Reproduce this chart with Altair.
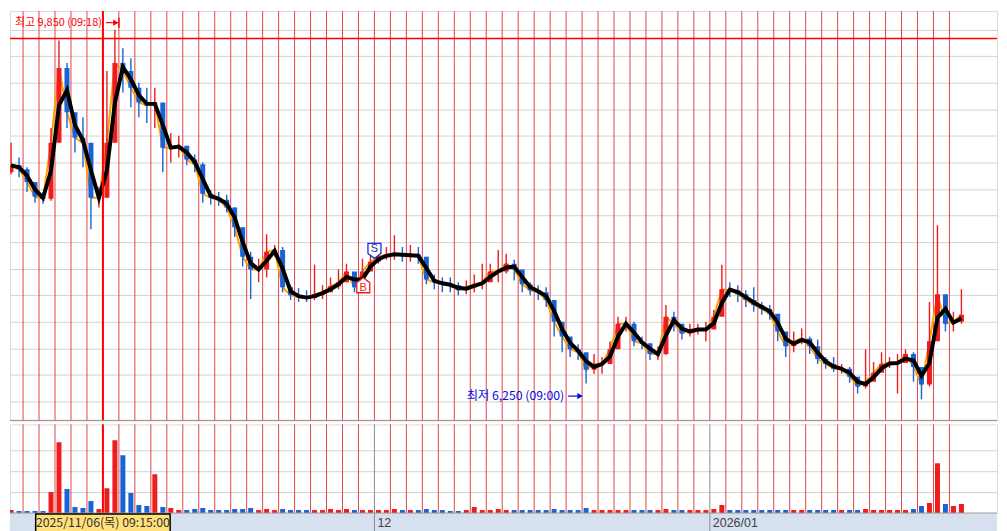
import altair as alt
import pandas as pd

# ---------------- data ----------------
# half-day slots, price in KRW
close = [
    8470, 8430, 8300, 8150, 8130, 8700, 9460, 9010, 8750, 8700,
    8140, 8140, 8700, 9510, 9430, 9260, 9110, 9080, 9110, 8650,
    8650, 8670, 8530, 8480, 8180, 8140, 8120, 8040, 7840, 7540,
    7410, 7410, 7590, 7610, 7230, 7150, 7130, 7120, 7160, 7180,
    7240, 7280, 7390, 7230, 7390, 7490, 7540, 7560, 7570, 7550,
    7560, 7540, 7310, 7280, 7260, 7250, 7200, 7230, 7260, 7280,
    7390, 7390, 7470, 7410, 7260, 7200, 7180, 7100, 6880, 6730,
    6600, 6570, 6390, 6450, 6450, 6600, 6860, 6860, 6680, 6660,
    6550, 6550, 6930, 6860, 6760, 6800, 6800, 6800, 6930, 7210,
    7200, 7160, 7100, 7050, 7010, 6960, 6780, 6630, 6680, 6710,
    6630, 6500, 6450, 6400, 6400, 6320, 6220, 6270, 6360, 6450,
    6460, 6460, 6550, 6420, 6240, 6680, 7160, 6860, 6880, 6950,
]
high = [
    8700, 8550, 8450, 8250, 8200, 8850, 9740, 9510, 8960, 8960,
    8600, 8250, 9430, 9850, 9660, 9560, 9310, 9260, 9260, 9060,
    8800, 8770, 8600, 8580, 8500, 8220, 8200, 8170, 8040, 7840,
    7590, 7520, 7770, 7660, 7640, 7250, 7220, 7200, 7460, 7250,
    7330, 7410, 7470, 7370, 7520, 7590, 7640, 7640, 7760, 7640,
    7660, 7640, 7540, 7360, 7330, 7330, 7280, 7300, 7360, 7470,
    7470, 7610, 7570, 7510, 7390, 7280, 7250, 7230, 7080, 6830,
    6700, 6650, 6520, 6550, 6520, 6680, 6930, 6930, 6880, 6730,
    6650, 6630, 7050, 6980, 6860, 6860, 6860, 6880, 7000, 7460,
    7280, 7250, 7200, 7230, 7080, 7050, 6930, 6730, 6780, 6810,
    6730, 6700, 6520, 6520, 6450, 6420, 6320, 6600, 6470, 6570,
    6520, 6550, 6600, 6570, 6320, 7080, 7860, 7080, 6980, 7210,
]
low = [
    8380, 8350, 8200, 8090, 8080, 8110, 8700, 8850, 8600, 8450,
    7820, 8040, 8140, 8700, 9210, 9060, 8960, 8900, 8850, 8400,
    8500, 8550, 8470, 8400, 8090, 8070, 8060, 7990, 7740, 7440,
    7110, 7280, 7330, 7540, 7180, 7100, 7080, 7080, 7100, 7110,
    7180, 7210, 7280, 7180, 7230, 7410, 7470, 7510, 7510, 7490,
    7490, 7470, 7260, 7210, 7180, 7180, 7150, 7160, 7180, 7210,
    7300, 7280, 7370, 7300, 7180, 7150, 7100, 7030, 6730, 6570,
    6520, 6490, 6250, 6350, 6350, 6450, 6630, 6780, 6630, 6600,
    6490, 6490, 6540, 6780, 6700, 6730, 6750, 6680, 6880, 7080,
    7130, 7080, 7030, 6980, 6950, 6900, 6680, 6520, 6570, 6650,
    6550, 6450, 6400, 6370, 6350, 6260, 6150, 6200, 6290, 6390,
    6410, 6150, 6500, 6270, 6090, 6220, 6930, 6780, 6780, 6860,
]
volume = [
    3, 2, 2, 2, 2, 21, 71, 24, 6, 5,
    12, 4, 25, 73, 58, 20, 8, 7, 39, 6,
    5, 3, 3, 4, 5, 3, 3, 3, 4, 4,
    5, 3, 4, 3, 4, 3, 3, 3, 3, 3,
    4, 3, 4, 3, 3, 3, 3, 3, 4, 3,
    3, 3, 4, 3, 3, 2, 2, 3, 6, 3,
    3, 4, 3, 3, 3, 3, 3, 3, 4, 3,
    3, 3, 5, 3, 3, 3, 3, 3, 3, 3,
    3, 3, 4, 3, 3, 3, 3, 3, 4, 8,
    3, 3, 3, 3, 3, 3, 3, 3, 3, 3,
    3, 3, 3, 3, 3, 3, 3, 4, 3, 3,
    3, 3, 3, 4, 7, 10, 50, 9, 7, 9,
]
first_open = 8400

day_lines = list(range(1, 60))          # trading-day boundaries
month_start_days = [23, 44]
month_labels = ["12", "2026/01"]
grid_prices = [9850, 9580, 9310, 9040, 8770, 8500, 8230, 7960, 7690,
               7420, 7150, 6880, 6610, 6340, 6070]
grid_volume = [21, 42, 63]

cross_day = 6
cross_price = 9760
cross_label = "2025/11/06(목) 09:15:00"

hi_day, hi_price, hi_text = 7.0, 9850, "최고 9,850 (09:18)"
lo_day, lo_price, lo_text = 36.0, 6250, "최저 6,250 (09:00)"

sig_day = [22.3, 23.0]
sig_price = [7250, 7600]
sig_type = ["B", "S"]

# ---------------- tables ----------------
df = pd.DataFrame({"slot": range(len(close)), "close": close,
                   "high": high, "low": low, "volume": volume})
df["day"] = df["slot"] / 2 + 0.25
df["open"] = df["close"].shift(1).fillna(first_open)
df["dir"] = ["up" if c >= o else "down" for c, o in zip(df["close"], df["open"])]

# view geometry (the page margin hides the first 8 px of the original picture)
W = 991
PH = 411
VH = 89
SH = 19
PX_DAY = 16.2
xs = alt.Scale(domain=[8 / PX_DAY, (8 + W) / PX_DAY], nice=False, zero=False)
ys = alt.Scale(domain=[5876, 10039], nice=False, zero=False)
vs = alt.Scale(domain=[0, VH], nice=False, zero=False)
col = alt.Scale(domain=["up", "down"], range=["#ee1c1c", "#1a62d6"])
yax = alt.Axis(values=grid_prices, grid=True, gridColor="#d2d2d2", gridWidth=1,
               labels=False, ticks=False, domain=False, title=None, orient="right")
vax = alt.Axis(values=grid_volume, grid=True, gridColor="#d2d2d2", gridWidth=1,
               labels=False, ticks=False, domain=False, title=None, orient="right")
X = lambda f="day": alt.X(f"{f}:Q", scale=xs, axis=None)
YP = lambda f: alt.Y(f"{f}:Q", scale=ys, axis=yax)
KFONT = "Noto Sans CJK KR"
RED, BLUE = "#ff0000", "#0a0ae6"

one = pd.DataFrame({"k": [0]})
dl = pd.DataFrame({"day": day_lines})
ms = pd.DataFrame({"day": month_start_days, "label": month_labels})
cross = pd.DataFrame({"day": [cross_day], "price": [cross_price], "label": [cross_label]})
hi = pd.DataFrame({"day": [hi_day], "price": [hi_price], "label": [hi_text]})
lo = pd.DataFrame({"day": [lo_day], "price": [lo_price], "label": [lo_text]})
sig = pd.DataFrame({"day": sig_day, "price": sig_price, "type": sig_type})

# ---------------- price panel ----------------
p_daylines = alt.Chart(dl).mark_rule(color="#e04646", strokeWidth=1).encode(x=X())
p_close = alt.Chart(df).mark_line(color="#ffa000", strokeWidth=2, clip=True).encode(
    x=X(), y=YP("close"))
p_wick = alt.Chart(df).mark_rule(strokeWidth=1.4, clip=True).encode(
    x=X(), y=YP("low"), y2="high:Q",
    color=alt.Color("dir:N", scale=col, legend=None))
p_body = alt.Chart(df).mark_bar(size=5, clip=True).encode(
    x=X(), y=YP("open"), y2="close:Q",
    color=alt.Color("dir:N", scale=col, legend=None))
p_ma = alt.Chart(df).transform_window(
    ma="mean(close)", frame=[-1, 0], sort=[alt.SortField("slot")]
).mark_line(color="black", strokeWidth=4, clip=True).encode(x=X(), y=YP("ma"))
p_cross_v = alt.Chart(cross).mark_rule(color=RED, strokeWidth=2).encode(x=X())
p_cross_h = alt.Chart(cross).mark_rule(color=RED, strokeWidth=1.5).encode(y=YP("price"))
p_sep = alt.Chart(one).mark_rule(color="#8c8c8c", strokeWidth=1).encode(
    x=alt.value(0), x2=alt.value(W), y=alt.value(PH))

# high label (sized so that it stays inside the visible area)
hi_txt = alt.Chart(hi).mark_text(align="right", baseline="middle", dx=-17, dy=-7,
                                 font=KFONT, fontSize=11, color=RED, clip=True).encode(
    x=X(), y=YP("price"), text="label:N")
hi_line = alt.Chart(hi).mark_rule(color=RED, strokeWidth=1.2, xOffset=-13, x2Offset=-4,
                                  yOffset=-7, y2Offset=-7).encode(
    x=X(), x2="day:Q", y=YP("price"), y2="price:Q")
hi_head = alt.Chart(hi).mark_point(shape="triangle-right", filled=True, size=40, opacity=1,
                                   color=RED, xOffset=-3, yOffset=-7).encode(
    x=X(), y=YP("price"))
hi_bar = alt.Chart(hi).mark_rule(color=RED, strokeWidth=1.5, yOffset=-12, y2Offset=-2).encode(
    x=X(), y=YP("price"), y2="price:Q")

# low label
lo_txt = alt.Chart(lo).mark_text(align="right", baseline="middle", dx=-18, dy=12.5,
                                 font=KFONT, fontSize=12.3, color=BLUE).encode(
    x=X(), y=YP("price"), text="label:N")
lo_line = alt.Chart(lo).mark_rule(color=BLUE, strokeWidth=1.2, xOffset=-14, x2Offset=-4,
                                  yOffset=12.5, y2Offset=12.5).encode(
    x=X(), x2="day:Q", y=YP("price"), y2="price:Q")
lo_head = alt.Chart(lo).mark_point(shape="triangle-right", filled=True, size=40, opacity=1,
                                   color=BLUE, xOffset=-2, yOffset=12.5).encode(
    x=X(), y=YP("price"))

# buy / sell signals
S_PATH = "M-0.87,-1 L0.87,-1 L0.87,0.35 L0,1 L-0.87,0.35 Z"
B_PATH = "M0,-1 L0.87,-0.35 L0.87,1 L-0.87,1 L-0.87,-0.35 Z"
sig_s = alt.Chart(sig).transform_filter(alt.datum.type == "S").mark_point(
    shape=S_PATH, size=225, filled=True, fill="white", stroke="#1a2ad6", strokeWidth=1.3,
    opacity=1).encode(x=X(), y=YP("price"))
sig_b = alt.Chart(sig).transform_filter(alt.datum.type == "B").mark_point(
    shape=B_PATH, size=225, filled=True, fill="white", stroke="#ee1c1c", strokeWidth=1.3,
    opacity=1).encode(x=X(), y=YP("price"))
sig_s_t = alt.Chart(sig).transform_filter(alt.datum.type == "S").mark_text(
    font="Liberation Sans", fontSize=11, color="#1a2ad6", dy=-2, baseline="middle").encode(
    x=X(), y=YP("price"), text="type:N")
sig_b_t = alt.Chart(sig).transform_filter(alt.datum.type == "B").mark_text(
    font="Liberation Sans", fontSize=11, color="#ee1c1c", dy=3, baseline="middle").encode(
    x=X(), y=YP("price"), text="type:N")

price = alt.layer(
    p_daylines, p_close, p_wick, p_body, p_ma, p_cross_h, p_cross_v, p_sep,
    hi_txt, hi_line, hi_head, hi_bar, lo_txt, lo_line, lo_head,
    sig_b, sig_s, sig_b_t, sig_s_t
).properties(width=W, height=PH)

# ---------------- volume panel ----------------
v_daylines = alt.Chart(dl).transform_filter(
    (alt.datum.day != 23) & (alt.datum.day != 44)
).mark_rule(color="#e04646", strokeWidth=1).encode(x=X())
v_month = alt.Chart(ms).mark_rule(color="#8c8c8c", strokeWidth=1).encode(x=X())
v_bars = alt.Chart(df).mark_bar(size=5, clip=True).encode(
    x=X(), y=alt.Y("volume:Q", scale=vs, axis=vax),
    color=alt.Color("dir:N", scale=col, legend=None))
v_cross = alt.Chart(cross).mark_rule(color=RED, strokeWidth=2).encode(x=X())
strip = alt.Chart(one).mark_rect(color="#d6e0ee").encode(
    x=alt.value(0), x2=alt.value(W), y=alt.value(VH), y2=alt.value(VH + SH))
strip_top = alt.Chart(one).mark_rule(color="#9a9a9a", strokeWidth=1).encode(
    x=alt.value(0), x2=alt.value(W), y=alt.value(VH))
strip_bottom = alt.Chart(one).mark_rule(color="#9a9a9a", strokeWidth=1).encode(
    x=alt.value(0), x2=alt.value(W), y=alt.value(VH + SH))
strip_sep = alt.Chart(ms).mark_rule(color="#8c8c8c", strokeWidth=1).encode(
    x=X(), y=alt.value(VH), y2=alt.value(VH + SH))
strip_lab = alt.Chart(ms).mark_text(align="left", baseline="middle", dx=3,
                                    font="Liberation Sans", fontSize=12.5, color="#404040").encode(
    x=X(), y=alt.value(VH + 10), text="label:N")
cross_box = alt.Chart(cross).mark_rect(color="#ffe07a", stroke="black", strokeWidth=1.5,
                                       xOffset=-67.5, x2Offset=67.5).encode(
    x=X(), x2="day:Q", y=alt.value(VH + 1), y2=alt.value(VH + SH))
cross_txt = alt.Chart(cross).mark_text(baseline="middle", font=KFONT, fontSize=12.3,
                                       color="#303030").encode(
    x=X(), y=alt.value(VH + 10), text="label:N")

vol = alt.layer(
    v_daylines, v_month, v_bars, v_cross, strip, strip_top, strip_bottom, strip_sep,
    strip_lab, cross_box, cross_txt
).properties(width=W, height=VH)

chart = alt.vconcat(price, vol, spacing=0).properties(
    padding=0
).configure_view(stroke=None).configure(background="white")

chart.save("out.html", embed_options={"renderer": "svg", "actions": False})
